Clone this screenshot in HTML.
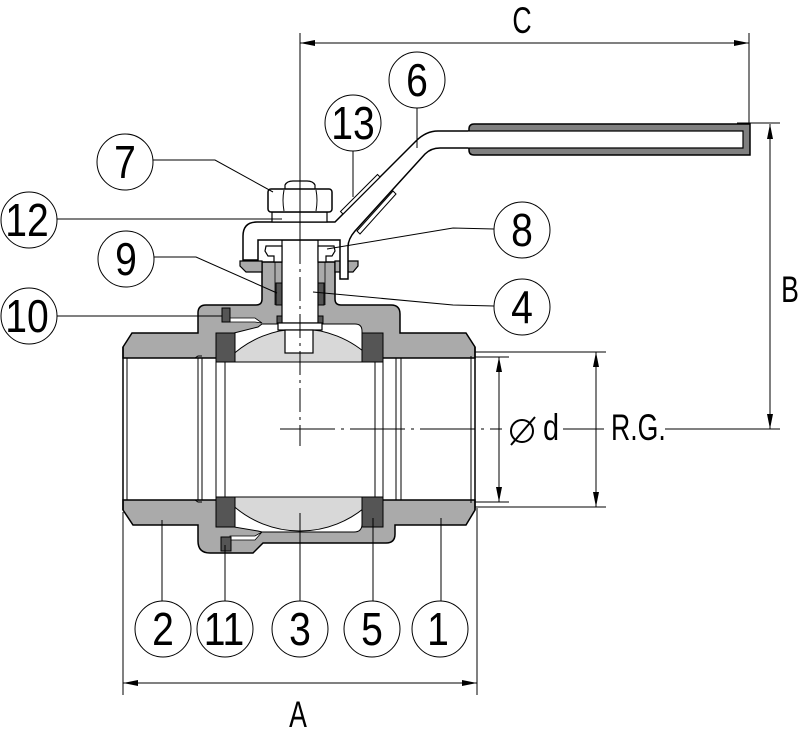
<!DOCTYPE html>
<html><head><meta charset="utf-8"><style>
html,body{margin:0;padding:0;background:#fff;}
svg{display:block;}
text{font-family:"Liberation Sans",sans-serif;fill:#000;}
</style></head><body>
<svg width="800" height="736" viewBox="0 0 800 736" xmlns="http://www.w3.org/2000/svg">
<defs>
<clipPath id="ballclip"><rect x="0" y="0" width="800" height="362"/><rect x="0" y="497" width="800" height="239"/></clipPath>
</defs>
<rect width="800" height="736" fill="#fff"/>

<!-- bore white -->
<rect x="124" y="358" width="351" height="142" fill="#fff"/>

<!-- grey top body + ends -->
<path d="M123,347 L132,333 L198,333 L198,313 Q198,305 206,305 L256,305 Q262,305 262,299 L262,262 L335,262 L335,299 Q335,305 341,305 L391,305 Q400,305 400,314 L400,333 L466,333 L475,347 L475,358 L123,358 Z" fill="#aaa" stroke="#000" stroke-width="1.5"/>
<!-- grey bottom body + ends -->
<path d="M123,510 L133,525 L198,525 L198,541 Q198,553 210,553 L253,553 L263,543 L386,543 Q395,543 395,534 L395,525 L466,525 L475,510 L475,500 L123,500 Z" fill="#aaa" stroke="#000" stroke-width="1.5"/>

<!-- flanges -->
<path d="M240,261 L262,261 L262,272 L246,272 L240,266 Z" fill="#aaa" stroke="#000" stroke-width="1.2"/>
<path d="M335,261 L358,261 L358,266 L353,272 L335,272 Z" fill="#aaa" stroke="#000" stroke-width="1.2"/>

<!-- cavities -->
<path d="M234,333 L258,327 L262,324 L355,324 Q362,324 362,331 L362,362 L234,362 Z" fill="#fff" stroke="#000" stroke-width="1"/>
<path d="M234,497 L362,497 L362,524 Q362,532 354,532 L262,532 L258,531 L234,527 Z" fill="#fff" stroke="#000" stroke-width="1"/>

<!-- ball -->
<circle cx="300" cy="430" r="101" fill="#d8d8d8" stroke="#000" stroke-width="1" clip-path="url(#ballclip)"/>
<rect x="216" y="362" width="167" height="135" fill="#fff"/>
<line x1="216" y1="362" x2="383" y2="362" stroke="#000" stroke-width="1"/>
<line x1="216" y1="497" x2="383" y2="497" stroke="#000" stroke-width="1"/>

<!-- bore vertical lines -->
<g stroke="#000" stroke-width="1">
<line x1="123" y1="347" x2="123" y2="510" stroke-width="1.5"/>
<line x1="127" y1="358" x2="127" y2="500"/>
<line x1="198" y1="358" x2="198" y2="500"/>
<line x1="202" y1="358" x2="202" y2="500"/>
<line x1="216" y1="362" x2="216" y2="497"/>
<line x1="225" y1="362" x2="225" y2="497"/>
<line x1="375" y1="362" x2="375" y2="497"/>
<line x1="383" y1="362" x2="383" y2="497"/>
<line x1="396" y1="358" x2="396" y2="500"/>
<line x1="401" y1="358" x2="401" y2="500"/>
<line x1="471" y1="356" x2="471" y2="503"/>
<line x1="475" y1="347" x2="475" y2="510" stroke-width="1.5"/>
<polyline points="195,358 198,356 202,356" fill="none"/>
<polyline points="195,500 198,502 202,502" fill="none"/>
</g>

<!-- seats -->
<g fill="#555" stroke="#000" stroke-width="1">
<rect x="216" y="333" width="19" height="29"/>
<rect x="362" y="333" width="21" height="29"/>
<rect x="216" y="497" width="19" height="30"/>
<rect x="362" y="497" width="21" height="30"/>
</g>

<!-- slots and seals -->
<path d="M230,318 L255,318 L262,323 L255,322 L230,322 Z" fill="#fff" stroke="#000" stroke-width="0.8"/>
<rect x="222" y="308" width="8" height="14" fill="#555" stroke="#000" stroke-width="1"/>
<path d="M230,536 L255,536 L262,532 L255,540 L230,540 Z" fill="#fff" stroke="#000" stroke-width="0.8"/>
<rect x="221" y="537" width="10" height="14" fill="#555" stroke="#000" stroke-width="1"/>

<!-- neck packing -->
<line x1="275" y1="262" x2="275" y2="305" stroke="#000" stroke-width="0.8"/>
<line x1="325" y1="262" x2="325" y2="305" stroke="#000" stroke-width="0.8"/>
<rect x="276" y="283" width="6" height="22" fill="#555" stroke="#000" stroke-width="1"/>
<rect x="318" y="283" width="6" height="22" fill="#555" stroke="#000" stroke-width="1"/>

<!-- stem -->
<rect x="282" y="240" width="36" height="83" fill="#fff" stroke="#000" stroke-width="1.2"/>
<rect x="277" y="316" width="5" height="7" fill="#555" stroke="#000" stroke-width="1"/>
<rect x="318" y="316" width="5" height="7" fill="#555" stroke="#000" stroke-width="1"/>
<rect x="278" y="323" width="44" height="7" fill="#fff" stroke="#000" stroke-width="1.2"/>
<rect x="285" y="330" width="28" height="23" fill="#fff" stroke="#000" stroke-width="1.2"/>

<!-- bushings -->
<path d="M266,246 L282,246 L282,262 L274,262 L274,256 L268,256 L265,251 Z" fill="#fff" stroke="#000" stroke-width="1.2"/>
<path d="M334,246 L318,246 L318,262 L326,262 L326,256 L332,256 L335,251 Z" fill="#fff" stroke="#000" stroke-width="1.2"/>

<!-- handle -->
<path d="M243,260 L243,236 Q243,222 257,222 L335,222 L416,141 Q426,131 438,131 L472,131 L472,148 L440,148 Q431,148 425,154 L355,231 Q348,239 348,247 L348,279 L340,279 L340,240 L258,240 L258,260 Z" fill="#fff" stroke="#000" stroke-width="1.5"/>
<!-- grip strips -->
<path d="M343,214 L380,177 L377.5,174.5 L340.5,211.5 Z" fill="#fff" stroke="#000" stroke-width="1"/>
<path d="M357,231 L393,191 L396,194 L360,234 Z" fill="#fff" stroke="#000" stroke-width="1"/>
<!-- sleeve -->
<path d="M474,124 L750,124 L750,155 L474,155 Q469,155 469,150 L469,129 Q469,124 474,124 Z" fill="#808080" stroke="#000" stroke-width="1.5"/>
<path d="M468,131 L743,131 L743,148 L468,148" fill="#fff" stroke="#000" stroke-width="1.2"/>

<!-- nut and washer -->
<rect x="272" y="212" width="55" height="10" fill="#fff" stroke="#000" stroke-width="1.2"/>
<path d="M285,189 L285,185 Q287,181 293,181 L307,181 Q313,181 315,185 L315,189" fill="#fff" stroke="#000" stroke-width="1.2"/>
<rect x="268" y="189" width="64" height="23" rx="3" fill="#fff" stroke="#000" stroke-width="1.5"/>
<path d="M284,190 Q282,200 284,211 M316,190 Q318,200 316,211" fill="none" stroke="#000" stroke-width="1"/>

<!-- centerlines -->
<line x1="300" y1="33" x2="300" y2="240" stroke="#000" stroke-width="1"/>
<line x1="300" y1="240" x2="300" y2="446" stroke="#000" stroke-width="1" stroke-dasharray="24,5,3,5"/>
<line x1="280" y1="429" x2="502" y2="429" stroke="#000" stroke-width="1" stroke-dasharray="55,6,3,6"/>

<!-- dimension lines -->
<g stroke="#000" stroke-width="1" fill="none">
<line x1="300" y1="43" x2="749" y2="43"/>
<line x1="749" y1="33" x2="749" y2="124"/>
<line x1="737" y1="123" x2="780" y2="123"/>
<line x1="770" y1="124" x2="770" y2="429"/>
<line x1="665" y1="429" x2="780" y2="429"/>
<line x1="563" y1="429" x2="604" y2="429"/>
<line x1="475" y1="352" x2="606" y2="352"/>
<line x1="475" y1="507" x2="606" y2="507"/>
<line x1="475" y1="357" x2="509" y2="357"/>
<line x1="475" y1="502" x2="509" y2="502"/>
<line x1="499" y1="357" x2="499" y2="502"/>
<line x1="596" y1="352" x2="596" y2="507"/>
<line x1="123" y1="512" x2="123" y2="695"/>
<line x1="477" y1="508" x2="477" y2="695"/>
<line x1="123" y1="683" x2="477" y2="683"/>
</g>
<g fill="#000">
<polygon points="300,43 315,40 315,46"/>
<polygon points="749,43 734,40 734,46"/>
<polygon points="770,124 767,139 773,139"/>
<polygon points="770,429 767,414 773,414"/>
<polygon points="499,357 496,372 502,372"/>
<polygon points="499,502 496,487 502,487"/>
<polygon points="596,352 593,367 599,367"/>
<polygon points="596,507 593,492 599,492"/>
<polygon points="123,683 138,680 138,686"/>
<polygon points="477,683 462,680 462,686"/>
</g>

<!-- diameter symbol -->
<circle cx="522" cy="431" r="11" fill="none" stroke="#000" stroke-width="2"/>
<line x1="511" y1="445" x2="535" y2="417" stroke="#000" stroke-width="2"/>

<!-- leaders -->
<g stroke="#000" stroke-width="1" fill="none">
<polyline points="153,160 215,160 273,192"/>
<polyline points="57,219 282,219"/>
<polyline points="154,257 196,257 277,293"/>
<polyline points="57,316 222,316"/>
<polyline points="353,151 353,197"/>
<polyline points="417,108 417,148"/>
<polyline points="494,229 453,228 327,249"/>
<polyline points="494,306 453,305 313,292"/>
<line x1="162" y1="520" x2="162" y2="601"/>
<line x1="225" y1="545" x2="225" y2="601"/>
<line x1="300" y1="513" x2="300" y2="601"/>
<line x1="373" y1="518" x2="373" y2="601"/>
<line x1="441" y1="518" x2="441" y2="601"/>
</g>

<!-- balloons -->
<g fill="#fff" stroke="#000" stroke-width="1">
<circle cx="125" cy="162" r="28"/>
<circle cx="353" cy="123" r="28"/>
<circle cx="417" cy="80" r="28"/>
<circle cx="29" cy="220" r="28"/>
<circle cx="126" cy="259" r="28"/>
<circle cx="29" cy="316" r="28"/>
<circle cx="522" cy="230" r="28"/>
<circle cx="522" cy="307" r="28"/>
<circle cx="163" cy="629" r="28"/>
<circle cx="225" cy="629" r="28"/>
<circle cx="300" cy="629" r="28"/>
<circle cx="372" cy="629" r="28"/>
<circle cx="440" cy="629" r="28"/>
</g>
<g font-size="46" text-anchor="middle">
<text transform="translate(125,178) scale(0.85,1)">7</text>
<text transform="translate(353,139) scale(0.85,1)">13</text>
<text transform="translate(417,96) scale(0.85,1)">6</text>
<text transform="translate(27,236) scale(0.85,1)">12</text>
<text transform="translate(126,275) scale(0.85,1)">9</text>
<text transform="translate(27,332) scale(0.85,1)">10</text>
<text transform="translate(522,246) scale(0.85,1)">8</text>
<text transform="translate(522,323) scale(0.85,1)">4</text>
<text transform="translate(163,645) scale(0.85,1)">2</text>
<text transform="translate(224,645) scale(0.85,1)">11</text>
<text transform="translate(300,645) scale(0.85,1)">3</text>
<text transform="translate(372,645) scale(0.85,1)">5</text>
<text transform="translate(438,645) scale(0.85,1)">1</text>
</g>
<g font-size="37">
<text transform="translate(522,33) scale(0.72,1)" text-anchor="middle">C</text>
<text transform="translate(298,727) scale(0.72,1)" text-anchor="middle">A</text>
<text transform="translate(790,302) scale(0.72,1)" text-anchor="middle">B</text>
<text transform="translate(611,440) scale(0.72,1)">R.G.</text>
<text transform="translate(551,440) scale(0.78,1)" text-anchor="middle">d</text>
</g>
</svg>
</body></html>
